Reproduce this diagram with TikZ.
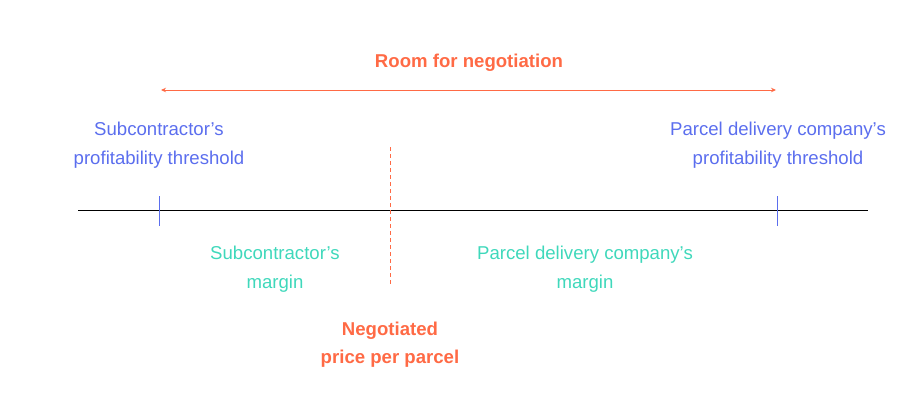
\documentclass[tikz,border=0pt]{standalone}
\usepackage{fontspec}
\setmainfont{Liberation Sans}
\usetikzlibrary{arrows.meta}
\definecolor{cblue}{HTML}{5B6EEE}
\definecolor{cteal}{HTML}{3FD8BB}
\definecolor{corange}{HTML}{FF6A45}
\begin{document}
\begin{tikzpicture}[x=1pt,y=-1pt,
  lbl/.style={align=center,inner sep=0pt,font=\fontsize{18.6}{29}\selectfont},
  bluelbl/.style={lbl,text=cblue},
  teallbl/.style={lbl,text=cteal},
  orangelbl/.style={lbl,text=corange,font=\fontsize{18.6}{28}\selectfont\bfseries},
  tick/.style={draw=cblue,line width=0.9pt}]
\useasboundingbox (0,0) rectangle (920,402);
% main axis
\coordinate (axL) at (78,210.5);
\coordinate (axR) at (868,210.5);
\draw[black,line width=0.8pt] (axL) -- (axR);
% ticks
\coordinate (t1a) at (159,196); \coordinate (t1b) at (159,226);
\coordinate (t2a) at (777,196); \coordinate (t2b) at (777,226);
\draw[tick] (t1a) -- (t1b);
\draw[tick] (t2a) -- (t2b);
% room arrow
\coordinate (arL) at (161,90);
\coordinate (arR) at (776,90);
\draw[corange,line width=1pt,{Stealth[length=5pt,width=4.5pt]}-{Stealth[length=5pt,width=4.5pt]}] (arL) -- (arR);
% dashed price line
\coordinate (dA) at (390,147);
\coordinate (dB) at (390,285);
\draw[corange,line width=1pt,dash pattern=on 4pt off 3pt] (dA) -- (dB);
% labels
\node[orangelbl,anchor=base] (room) at (469,67) {Room for negotiation};
\node[bluelbl] (subthr) at (159,145.5) {Subcontractor’s\\profitability threshold};
\node[bluelbl] (parthr) at (778,145.5) {Parcel delivery company’s\\profitability threshold};
\node[teallbl] (submar) at (275,269.5) {Subcontractor’s\\margin};
\node[teallbl] (parmar) at (585,269.5) {Parcel delivery company’s\\margin};
\node[orangelbl] (neg) at (390,344.5) {Negotiated\\price per parcel};
\end{tikzpicture}
\end{document}
